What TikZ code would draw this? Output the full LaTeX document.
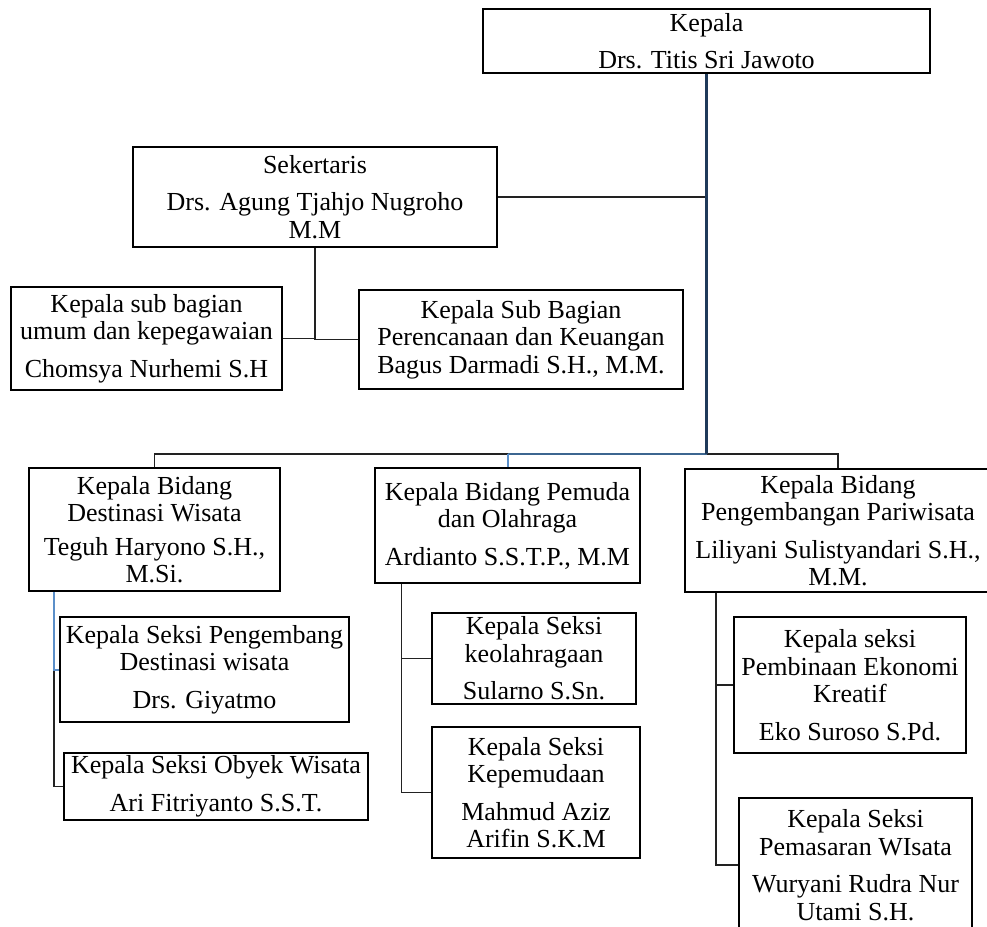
\documentclass[tikz,border=0pt]{standalone}
\usepackage{fontspec}
\setmainfont{Liberation Serif}
\definecolor{navy}{HTML}{1F3A5A}
\definecolor{midblue}{HTML}{3C6690}
\definecolor{liteblue}{HTML}{5B8FC9}
\definecolor{conn}{HTML}{222222}
\begin{document}
\begin{tikzpicture}[x=1pt,y=-1pt,
  box/.style={draw=black,line width=2.6pt,inner sep=0pt,align=center,
    font=\fontsize{26}{27.5}\selectfont},
  link/.style={draw=conn,line width=1.4pt},
  trunk/.style={draw=navy,line width=2.2pt},
  bluelink/.style={draw=midblue,line width=2pt},
  litelink/.style={draw=liteblue,line width=2pt}]
\useasboundingbox (0,0) rectangle (987,926);
% boxes
\node[box,minimum width=447pt,minimum height=64pt] (kepala) at (706.5,41)
  {Kepala\\[10pt]Drs. Titis Sri Jawoto};
\node[box,minimum width=364pt,minimum height=100pt] (sek) at (315,197)
  {Sekertaris\\[10pt]Drs. Agung Tjahjo Nugroho\\M.M};
\node[box,minimum width=271pt,minimum height=103pt] (subL) at (146.5,338.5)
  {Kepala sub bagian\\umum dan kepegawaian\\[10pt]Chomsya Nurhemi S.H};
\node[box,minimum width=324pt,minimum height=99pt] (subR) at (521,339.5)
  {Kepala Sub Bagian\\Perencanaan dan Keuangan\\Bagus Darmadi S.H., M.M.};
\node[box,minimum width=251pt,minimum height=123pt] (A) at (154.5,529.5)
  {Kepala Bidang\\Destinasi Wisata\\[6pt]Teguh Haryono S.H.,\\M.Si.};
\node[box,minimum width=265pt,minimum height=115pt] (B) at (507.5,525.5)
  {Kepala Bidang Pemuda\\dan Olahraga\\[10pt]Ardianto S.S.T.P., M.M};
\node[box,minimum width=306pt,minimum height=123pt] (C) at (838,530.5)
  {Kepala Bidang\\Pengembangan Pariwisata\\[10pt]Liliyani Sulistyandari S.H.,\\M.M.};
\node[box,minimum width=289pt,minimum height=105pt] (A1) at (204.5,669.5)
  {Kepala Seksi Pengembang\\Destinasi wisata\\[10pt]Drs. Giyatmo};
\node[box,minimum width=304pt,minimum height=67pt] (A2) at (216,786.5)
  {Kepala Seksi Obyek Wisata\\[10pt]Ari Fitriyanto S.S.T.};
\node[box,minimum width=204pt,minimum height=91pt] (B1) at (534,658.5)
  {Kepala Seksi\\keolahragaan\\[10pt]Sularno S.Sn.};
\node[box,minimum width=208pt,minimum height=131pt] (B2) at (536,792.5)
  {Kepala Seksi\\Kepemudaan\\[10pt]Mahmud Aziz\\Arifin S.K.M};
\node[box,minimum width=232pt,minimum height=136pt] (C1) at (850,685)
  {Kepala seksi\\Pembinaan Ekonomi\\Kreatif\\[10pt]Eko Suroso S.Pd.};
\node[box,minimum width=233pt,minimum height=134pt] (C2) at (855.5,865)
  {Kepala Seksi\\Pemasaran WIsata\\[10pt]Wuryani Rudra Nur\\Utami S.H.};
% helper coordinates
\coordinate (bus) at (0,454);
\coordinate (tA) at (54,0);
\coordinate (tB) at (401.5,0);
\coordinate (tC) at (716,0);
% connectors
\draw[link] (sek.east) -- (sek.east -| kepala.south);
\draw[link] (sek.south) |- (subL.east);
\draw[link] (sek.south) |- (subR.west);
\draw[link] (A.north) -- (A.north |- bus) -- (C.north |- bus) -- (C.north);
\draw[bluelink] (kepala.south |- bus) -- (B.north |- bus);
\draw[litelink] (B.north |- bus) -- (B.north);
\draw[trunk] (kepala.south) -- (kepala.south |- bus);
% A branch
\draw[link] (A1.west -| tA) |- (A2.west);
\draw[litelink] (A.south -| tA) |- (A1.west);
% B branch
\draw[link] (B.south -| tB) |- (B1.west);
\draw[link] (B.south -| tB) |- (B2.west);
% C branch
\draw[link] (C.south -| tC) |- (C1.west);
\draw[link] (C.south -| tC) |- (C2.west);
\end{tikzpicture}
\end{document}
